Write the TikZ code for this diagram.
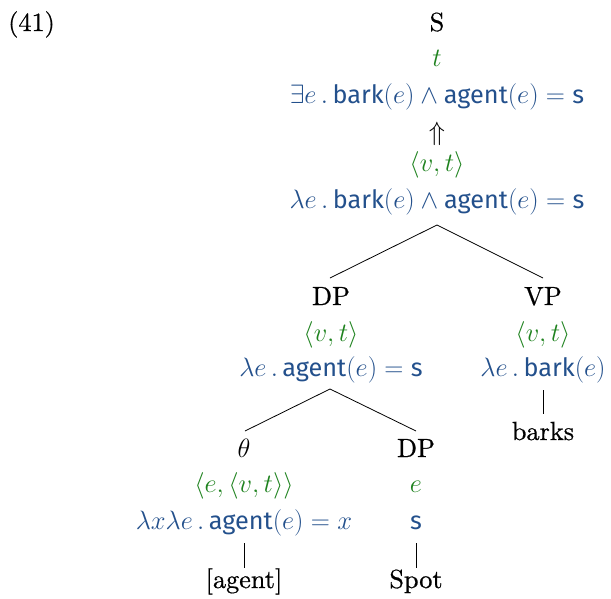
\RequirePackage{fix-cm}
\documentclass[tikz,border=0pt]{standalone}
\usepackage{fontspec}
\setmainfont{lmroman10-regular.otf}[ItalicFont=lmroman10-italic.otf, BoldFont=lmroman10-bold.otf, FakeBold=0.6, Scale=1.05]
\newfontfamily\sansf{Fira Sans}[Scale=1.01]
\newcommand\sfw[1]{\mbox{\sansf #1}}
\DeclareMathSizes{25}{26.5}{18}{14}
\definecolor{semblue}{RGB}{35,80,140}
\definecolor{semgreen}{RGB}{30,130,30}
\begin{document}
\begin{tikzpicture}[x=1pt,y=-1pt,
  every node/.style={font=\fontsize{25}{30}\selectfont, inner sep=0pt, anchor=base},
  typ/.style={text=semgreen},
  sem/.style={text=semblue},
  branch/.style={draw=black, line width=0.8pt}]
\useasboundingbox (0,0) rectangle (611,598);
\node[anchor=base west] (ex) at (8,31) {(41)};
% root
\node (S) at (437,31) {S};
\node[typ] (St) at (437,66) {$t$};
\node[sem] (Ssem) at (437,103) {$\exists e\,.\,\sfw{bark}(e)\wedge\sfw{agent}(e)=\sfw{s}$};
\node[anchor=center] (up) at (437,134) {$\Uparrow$};
\node[typ] (St2) at (437,171) {$\langle v,t\rangle$};
\node[sem] (Ssem2) at (437,208) {$\lambda e\,.\,\sfw{bark}(e)\wedge\sfw{agent}(e)=\sfw{s}$};
% DP
\node (DP) at (331,305) {DP};
\node[typ] (DPt) at (331,341) {$\langle v,t\rangle$};
\node[sem] (DPsem) at (331,376) {$\lambda e\,.\,\sfw{agent}(e)=\sfw{s}$};
% VP
\node (VP) at (543,305) {VP};
\node[typ] (VPt) at (543,341) {$\langle v,t\rangle$};
\node[sem] (VPsem) at (543,376) {$\lambda e\,.\,\sfw{bark}(e)$};
\node (barks) at (543,440) {barks};
% theta
\node (th) at (244,457) {$\theta$};
\node[typ] (tht) at (244,492) {$\langle e,\langle v,t\rangle\rangle$};
\node[sem] (thsem) at (244,529) {$\lambda x\lambda e\,.\,\sfw{agent}(e)=x$};
\node (agent) at (244,588) {[agent]};
% DP2
\node (DPb) at (416,457) {DP};
\node[typ] (DPbt) at (416,492) {$e$};
\node[sem] (DPbsem) at (416,529) {$\sfw{s}$};
\node (spot) at (416,588) {Spot};
% connector ends
\coordinate (rootb) at (437,225);
\coordinate (DPtop) at (330,278);
\coordinate (VPtop) at (543,278);
\coordinate (DPbot) at (330,389);
\coordinate (thtop) at (245,431);
\coordinate (DPbtop) at (416,431);
\coordinate (VPbot) at (543,390);
\coordinate (barkstop) at (543,414);
\coordinate (thbot) at (244,543);
\coordinate (agenttop) at (244,568);
\coordinate (DPbbot) at (416,543);
\coordinate (spottop) at (416,568);
\draw[branch] (rootb) -- (DPtop);
\draw[branch] (rootb) -- (VPtop);
\draw[branch] (DPbot) -- (thtop);
\draw[branch] (DPbot) -- (DPbtop);
\draw[branch] (VPbot) -- (barkstop);
\draw[branch] (thbot) -- (agenttop);
\draw[branch] (DPbbot) -- (spottop);
\end{tikzpicture}
\end{document}
